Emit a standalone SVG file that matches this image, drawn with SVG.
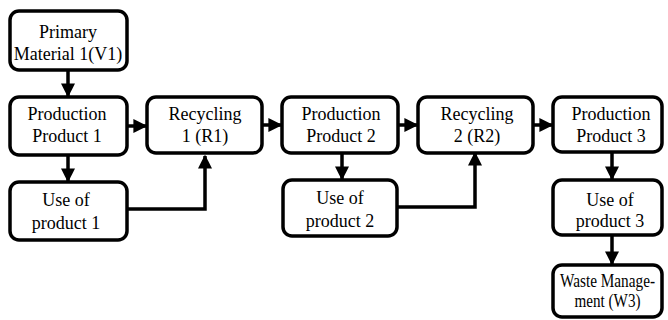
<svg xmlns="http://www.w3.org/2000/svg" width="668" height="320" viewBox="0 0 668 320">
<defs>
<marker id="ah" markerWidth="4" markerHeight="4" refX="3.6" refY="2" orient="auto" markerUnits="strokeWidth">
<path d="M0,0 L4,2 L0,4 z" fill="#000"/>
</marker>
<style>
.box{fill:#fff;stroke:#000;stroke-width:3.5}
text{font-family:'Liberation Serif','Times New Roman',serif;font-size:18px;fill:#000;text-anchor:middle}
.c{fill:none;stroke:#000;stroke-width:3.5;marker-end:url(#ah)}
</style>
</defs>
<rect width="668" height="320" fill="#fff"/>
<g id="connectors">
<path class="c" d="M68,70 V96"/>
<path class="c" d="M68,155 V181"/>
<path class="c" d="M127,126 H146"/>
<path class="c" d="M127,209 H205 V156"/>
<path class="c" d="M262,125 H281"/>
<path class="c" d="M342,153 V179"/>
<path class="c" d="M398,125 H417"/>
<path class="c" d="M397,207 H475 V153"/>
<path class="c" d="M533,125 H552"/>
<path class="c" d="M612,152 V179"/>
<path class="c" d="M612,235 V264"/>
</g>
<g id="v1"><rect class="box" x="10" y="11" width="117" height="59" rx="9"/><text x="68" y="38">Primary</text><text x="68" y="60">Material 1(V1)</text></g>
<g id="p1"><rect class="box" x="10" y="97" width="117" height="58" rx="9"/><text x="67" y="120">Production</text><text x="67" y="142">Product 1</text></g>
<g id="r1"><rect class="box" x="147" y="97" width="115" height="56" rx="9"/><text x="205" y="120">Recycling</text><text x="205" y="142">1 (R1)</text></g>
<g id="p2"><rect class="box" x="282" y="97" width="116" height="56" rx="9"/><text x="341" y="120">Production</text><text x="341" y="142">Product 2</text></g>
<g id="r2"><rect class="box" x="418" y="97" width="115" height="56" rx="9"/><text x="477" y="120">Recycling</text><text x="477" y="142">2 (R2)</text></g>
<g id="p3"><rect class="box" x="553" y="97" width="109" height="55" rx="9"/><text x="611" y="120">Production</text><text x="611" y="142">Product 3</text></g>
<g id="u1"><rect class="box" x="10" y="182" width="117" height="58" rx="9"/><text x="66" y="206">Use of</text><text x="66" y="229">product 1</text></g>
<g id="u2"><rect class="box" x="283" y="180" width="114" height="56" rx="9"/><text x="340" y="204">Use of</text><text x="340" y="227">product 2</text></g>
<g id="u3"><rect class="box" x="553" y="180" width="109" height="55" rx="9"/><text x="610" y="206">Use of</text><text x="610" y="227">product 3</text></g>
<g id="w3"><rect class="box" x="553" y="265" width="109" height="52" rx="9"/><text x="607.5" y="287" font-size="15" textLength="95" lengthAdjust="spacingAndGlyphs">Waste Manage-</text><text x="607.5" y="307" font-size="15" textLength="66" lengthAdjust="spacingAndGlyphs">ment (W3)</text></g>
</svg>
